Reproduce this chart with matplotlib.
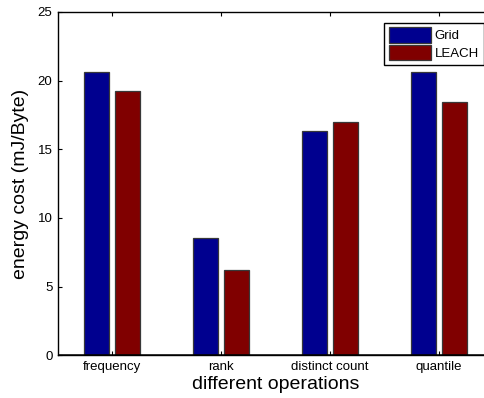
import matplotlib
matplotlib.use("Agg")
import matplotlib.pyplot as plt
import numpy as np

categories = ["frequency", "rank", "distinct count", "quantile"]
grid_vals = [20.65, 8.52, 16.35, 20.6]
leach_vals = [19.25, 6.19, 16.97, 18.45]
series_names = ["Grid", "LEACH"]
yticks = [0, 5, 10, 15, 20, 25]

plt.rcParams['font.family'] = ['Liberation Sans', 'DejaVu Sans']

W, H = 485, 398
fig = plt.figure(figsize=(W/100, H/100), dpi=100)
left, right, top, bottom = 58, 493, 12, 355.3
ax = fig.add_axes([left/W, 1 - bottom/H, (right-left)/W, (bottom-top)/H])

x = np.arange(1, len(categories)+1)
off = 0.143
bw = 0.229
ax.bar(x - off, grid_vals, bw, color='#00008F', edgecolor='#383838', linewidth=0.9, label=series_names[0], zorder=2)
ax.bar(x + off, leach_vals, bw, color='#800000', edgecolor='#383838', linewidth=0.9, label=series_names[1], zorder=2)
ax.axhline(0, color='black', linewidth=1.8, zorder=3)

ax.set_xlim(0.5, 4.5)
ax.set_ylim(0, 25)
ax.set_xticks(x)
ax.set_xticklabels(categories, fontsize=9.5)
ax.set_yticks(yticks)
ax.set_yticklabels([str(v) for v in yticks], fontsize=9.5)
ax.tick_params(direction='in', length=3, width=0.8, top=True, right=True, pad=4)
for s in ax.spines.values():
    s.set_linewidth(1.0)
ax.set_xlabel("different operations", fontsize=14, labelpad=2)
ax.set_ylabel("energy cost (mJ/Byte)", fontsize=14, labelpad=6)

leg = ax.legend(loc='upper right', bbox_to_anchor=(483.7/W, 1 - 22.7/H), bbox_transform=fig.transFigure,
                fontsize=9.5, frameon=True, fancybox=False, edgecolor='black', framealpha=1,
                handlelength=3.2, handleheight=1.4, handletextpad=0.3, borderpad=0.35, labelspacing=0.2,
                borderaxespad=0)
leg.get_frame().set_linewidth(1.0)

fig.savefig("out.png", dpi=100)
